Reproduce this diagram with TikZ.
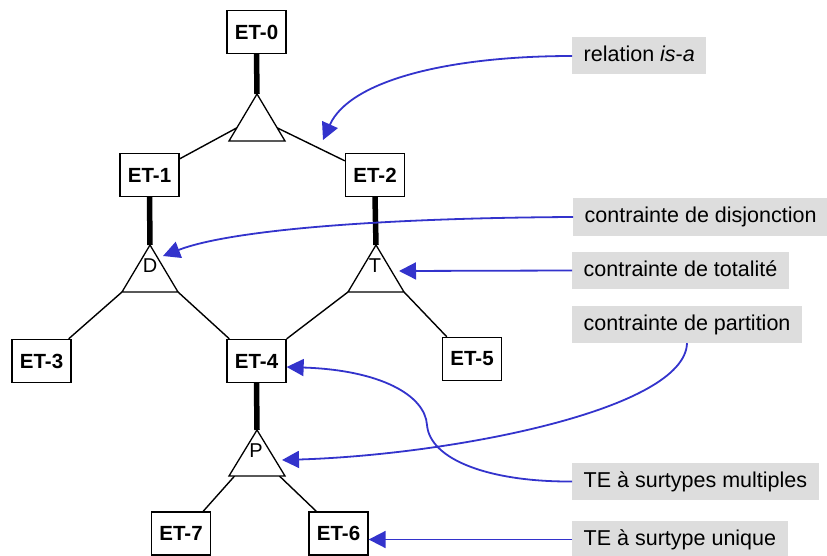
\documentclass[tikz,border=0pt]{standalone}
\usepackage{fontspec}
\setmainfont{Liberation Sans}
\usetikzlibrary{arrows.meta,calc}
\definecolor{arrowblue}{RGB}{51,51,204}
\definecolor{notegray}{RGB}{221,221,221}

\begin{document}
\begin{tikzpicture}[x=1pt,y=-1pt,
  entity/.style={draw,line width=1.3pt,fill=white,minimum width=59pt,minimum height=43pt,
    inner sep=0pt,font=\fontsize{20.5}{24}\selectfont\bfseries},
  isa/.style={draw,fill=white,line width=1.3pt,line join=miter},
  link/.style={line width=1.4pt},
  heavy/.style={line width=5.5pt},
  tag/.style={font=\fontsize{20}{22}\selectfont,inner sep=0pt},
  note/.style={fill=notegray,anchor=west,inner xsep=11.5pt,inner ysep=0pt,minimum height=37pt,
    font=\fontsize{21.5}{24}\selectfont,text height=15.5pt,text depth=4.5pt},
  pointer/.style={draw=arrowblue,line width=1.8pt,-{Triangle[length=17pt,width=17pt]}}]

\useasboundingbox (0,0) rectangle (827,556);

% entity types
\node[entity] (et0) at (256.5,32)  {ET-0};
\node[entity] (et1) at (149.5,175) {ET-1};
\node[entity] (et2) at (375,175)   {ET-2};
\node[entity] (et3) at (41.5,361)  {ET-3};
\node[entity] (et4) at (256.5,361) {ET-4};
\node[entity] (et5) at (472,359)   {ET-5};
\node[entity] (et7) at (181,533.5) {ET-7};
\node[entity] (et6) at (338.5,533.5) {ET-6};

% is-a triangles: apex, left and right base corners
\coordinate (t0a) at (257,94);  \coordinate (t0l) at (229,141); \coordinate (t0r) at (285,141);
\coordinate (tDa) at (150,245); \coordinate (tDl) at (122,292); \coordinate (tDr) at (178,292);
\coordinate (tTa) at (376,245); \coordinate (tTl) at (348,292); \coordinate (tTr) at (404,292);
\coordinate (tPa) at (257,430); \coordinate (tPl) at (229,476); \coordinate (tPr) at (285,476);

% supertype links (thick)
\draw[heavy] (et0.south) -- (t0a);
\draw[heavy] (et1.south) -- (tDa);
\draw[heavy] (et2.south) -- (tTa);
\draw[heavy] (et4.south) -- (tPa);

% subtype links (thin)
\draw[link] ($(t0a)!0.72!(t0l)$) -- ([yshift=-6pt]et1.north east);
\draw[link] ($(t0a)!0.72!(t0r)$) -- ([yshift=-8pt]et2.north west);
\draw[link] (tDl) -- ([xshift=-3pt]et3.north east);
\draw[link] (tDr) -- ([xshift=3pt]et4.north west);
\draw[link] (tTl) -- (et4.north east);
\draw[link] (tTr) -- ([xshift=5pt]et5.north west);
\draw[link] ($(tPl)!0.1!(tPr)$) -- ([xshift=-8pt]et7.north east);
\draw[link] ($(tPr)!0.1!(tPl)$) -- ([xshift=8pt]et6.north west);

% triangles
\draw[isa] (t0a) -- (t0l) -- (t0r) -- cycle;
\draw[isa] (tDa) -- (tDl) -- (tDr) -- cycle;
\draw[isa] (tTa) -- (tTl) -- (tTr) -- cycle;
\draw[isa] (tPa) -- (tPl) -- (tPr) -- cycle;

\node[tag] (lD) at (150,266) {D};
\node[tag] (lT) at (375,266) {T};
\node[tag] (lP) at (256,451) {P};

% annotations
\node[note] (nisa)  at (572,56)    {relation \textit{is}-\textit{a}};
\node[note] (ndisj) at (573,217)   {contrainte de disjonction};
\node[note] (ntot)  at (572,270.5) {contrainte de totalité};
\node[note] (npart) at (572,324.5) {contrainte de partition};
\node[note] (nmult) at (572,481.5) {TE à surtypes multiples};
\node[note] (nuniq) at (572,539.5) {TE à surtype unique};

% arrow targets
\coordinate (pIsa)  at (323,140);
\coordinate (pDisj) at (163,256);
\coordinate (pTot)  at (399,271);
\coordinate (pPart) at (282,460);

% annotation arrows
\draw[pointer] (nisa.west) .. controls (450,56) and (350,80) .. (pIsa);
\draw[pointer] (ndisj.west) .. controls (380,218) and (230,230) .. (pDisj);
\draw[pointer] (ntot.west) -- (pTot);
\draw[pointer] ($(npart.south west)+(115,0)$) .. controls (685,410) and (450,455) .. (pPart);
\draw[pointer] (nmult.west) .. controls (490,482) and (430,460) .. (427,425)
  .. controls (425,395) and (380,370) .. ([yshift=-6pt]et4.east);
\draw[pointer] (nuniq.west) -- ([yshift=-6pt]et6.east);
\end{tikzpicture}
\end{document}
